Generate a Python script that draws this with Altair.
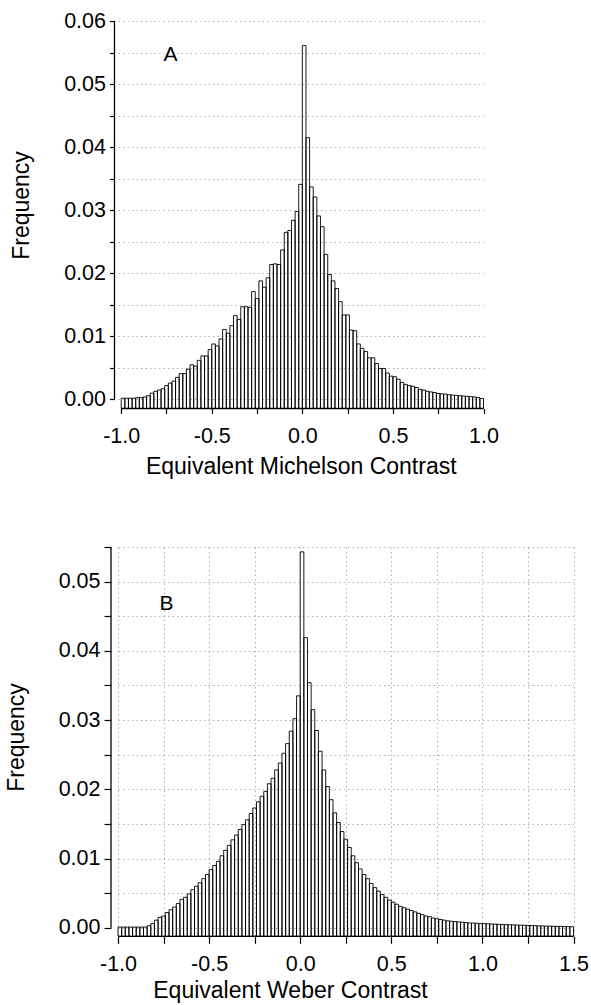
import altair as alt
import pandas as pd

FONT = "Liberation Sans"
BIN_WIDTH = 0.02

# Panel A: Equivalent Michelson contrast, bins of 0.02 from -1.0 to 1.0
michelson_start = -1.0
michelson_freq = [
    0.0002, 0.0002, 0.0002, 0.0002, 0.0003, 0.0003, 0.0004, 0.0006, 0.0010, 0.0013,
    0.0015, 0.0017, 0.0022, 0.0026, 0.0029, 0.0035, 0.0041, 0.0041, 0.0048, 0.0055,
    0.0053, 0.0062, 0.0069, 0.0069, 0.0079, 0.0088, 0.0085, 0.0096, 0.0111, 0.0105,
    0.0117, 0.0133, 0.0127, 0.0147, 0.0147, 0.0146, 0.0171, 0.0160, 0.0188, 0.0178,
    0.0193, 0.0214, 0.0215, 0.0214, 0.0237, 0.0265, 0.0268, 0.0284, 0.0298, 0.0341,
    0.0561, 0.0415, 0.0337, 0.0321, 0.0291, 0.0274, 0.0230, 0.0198, 0.0188, 0.0176,
    0.0155, 0.0134, 0.0134, 0.0110, 0.0109, 0.0088, 0.0081, 0.0076, 0.0066, 0.0066,
    0.0057, 0.0049, 0.0049, 0.0042, 0.0037, 0.0036, 0.0032, 0.0027, 0.0024, 0.0022,
    0.0021, 0.0019, 0.0016, 0.0015, 0.0013, 0.0012, 0.0011, 0.00095, 0.0009, 0.00085,
    0.00075, 0.0007, 0.00065, 0.0006, 0.00055, 0.0005, 0.00045, 0.0004, 0.0003, 0.00015,
]

# Panel B: Equivalent Weber contrast, bins of 0.02 from -1.0 to 1.5
weber_start = -1.0
weber_freq = [
    0.0001, 0.0001, 0.0001, 0.0001, 0.0001, 0.0001, 0.0001, 0.0001, 0.0003, 0.0006,
    0.0011, 0.0015, 0.0017, 0.0022, 0.0026, 0.0030, 0.0035, 0.0041, 0.0044, 0.0049,
    0.0055, 0.0060, 0.0065, 0.0071, 0.0077, 0.0084, 0.0090, 0.0096, 0.0104, 0.0112,
    0.0119, 0.0127, 0.0134, 0.0142, 0.0149, 0.0156, 0.0165, 0.0173, 0.0182, 0.0190,
    0.0197, 0.0208, 0.0216, 0.0228, 0.0238, 0.0252, 0.0266, 0.0284, 0.0302, 0.0335,
    0.0543, 0.0419, 0.0354, 0.0315, 0.0285, 0.0255, 0.0228, 0.0204, 0.0185, 0.0166,
    0.0152, 0.0139, 0.0128, 0.0116, 0.0104, 0.0094, 0.0085, 0.0077, 0.0071, 0.0064,
    0.0058, 0.0053, 0.0048, 0.0044, 0.0040, 0.0037, 0.0034, 0.0031, 0.0029, 0.0027,
    0.0025, 0.0023, 0.0021, 0.0019, 0.0017, 0.0016, 0.0014, 0.0013, 0.0012, 0.0011,
    0.0010, 0.00095, 0.0009, 0.00085, 0.0008, 0.00075, 0.0007, 0.00068, 0.00065, 0.00062,
    0.0006, 0.00058, 0.00055, 0.00052, 0.0005, 0.00048, 0.00046, 0.00044, 0.00042, 0.0004,
    0.00038, 0.00036, 0.00034, 0.00032, 0.0003, 0.00028, 0.00026, 0.00025, 0.00024, 0.00022,
    0.0002, 0.0002, 0.00018, 0.00017, 0.00015,
]

michelson_xticks = [-1.0, -0.75, -0.5, -0.25, 0.0, 0.25, 0.5, 0.75, 1.0]
weber_xticks = [-1.0, -0.75, -0.5, -0.25, 0.0, 0.25, 0.5, 0.75, 1.0, 1.25, 1.5]
michelson_yticks = [round(0.005 * k, 3) for k in range(13)]
weber_yticks = [round(0.005 * k, 3) for k in range(12)]


def make_df(start, freqs):
    n = len(freqs)
    return pd.DataFrame({
        "x0": [round(start + i * BIN_WIDTH, 4) for i in range(n)],
        "x1": [round(start + (i + 1) * BIN_WIDTH, 4) for i in range(n)],
        "freq": freqs,
    })


XLABEL = "round(datum.value*100) % 50 == 0 ? (datum.value < 0 ? '-' : '') + format(abs(datum.value), '.1f') : ''"
YLABEL = "round(datum.value*1000) % 10 == 0 ? format(datum.value, '.2f') : ''"

GRID = dict(gridColor="#666666", gridOpacity=0.5, gridDash=[1.5, 3], gridWidth=1)


def panel(df, xdom, xlo, xhi, ydom, ytop, width, height, xticks, yticks,
          yoffset, ytick, xtick, xlabpad, xtitle, xtitlepad, xtitle_x, ytitle_y,
          letter, letter_x, letter_y, xgrid):
    xscale = alt.Scale(domain=xdom, nice=False, zero=False)
    yscale = alt.Scale(domain=ydom, nice=False, zero=False)
    xaxis_kw = dict(
        values=xticks, labelExpr=XLABEL, title=xtitle, domain=False,
        tickSize=xtick, tickColor="black", tickWidth=1.2,
        labelFont=FONT, labelFontSize=21.5, labelColor="black",
        labelPadding=xlabpad, labelOverlap=False, labelFlush=False,
        titleFont=FONT, titleFontSize=23, titleFontWeight="normal",
        titleColor="black", titlePadding=xtitlepad, grid=xgrid, **GRID,
    )
    if xtitle_x is not None:
        xaxis_kw["titleX"] = xtitle_x
    xaxis = alt.Axis(**xaxis_kw)
    yaxis = alt.Axis(
        values=yticks, labelExpr=YLABEL, title="Frequency", domain=False,
        offset=yoffset, tickSize=ytick, tickColor="black", tickWidth=1.2,
        labelFont=FONT, labelFontSize=21.5, labelColor="black",
        labelPadding=4, labelOverlap=False, labelFlush=False,
        titleFont=FONT, titleFontSize=23, titleFontWeight="normal",
        titleColor="black", titlePadding=30, titleY=ytitle_y, grid=True, **GRID,
    )
    bars = alt.Chart(df).mark_rect(
        filled=False, stroke="black", strokeWidth=0.9
    ).encode(
        x=alt.X("x0:Q", scale=xscale, axis=xaxis),
        x2="x1:Q",
        y=alt.Y("freq:Q", scale=yscale, axis=yaxis),
        y2=alt.datum(ydom[0]),
    )
    one = alt.Data(values=[{}])
    yline = alt.Chart(one).mark_rule(color="black", strokeWidth=1.3).encode(
        x=alt.value(-yoffset),
        y=alt.YDatum(0, scale=yscale, axis=yaxis),
        y2=alt.datum(ytop),
    )
    xline = alt.Chart(one).mark_rule(color="black", strokeWidth=1.3).encode(
        x=alt.XDatum(xlo, scale=xscale, axis=xaxis),
        x2=alt.datum(xhi),
        y=alt.YDatum(ydom[0], scale=yscale, axis=yaxis),
    )
    text = alt.Chart(one).mark_text(
        text=letter, font=FONT, fontSize=21, color="black", align="center", baseline="middle"
    ).encode(
        x=alt.XDatum(letter_x, scale=xscale, axis=xaxis),
        y=alt.YDatum(letter_y, scale=yscale, axis=yaxis),
    )
    return alt.layer(bars, yline, xline, text).properties(width=width, height=height)


top = panel(
    make_df(michelson_start, michelson_freq),
    xdom=[-1.0177, 1.0], xlo=-1.0, xhi=1.0,
    ydom=[-0.00143, 0.06], ytop=0.06, width=365.5, height=387.5,
    xticks=michelson_xticks, yticks=michelson_yticks,
    yoffset=3.5, ytick=5, xtick=5, xlabpad=12,
    xtitle="Equivalent Michelson Contrast", xtitlepad=8, xtitle_x=None, ytitle_y=184,
    letter="A", letter_x=-0.728, letter_y=0.0546, xgrid=False,
)

bottom = panel(
    make_df(weber_start, weber_freq),
    xdom=[-1.0, 1.5], xlo=-1.0, xhi=1.5,
    ydom=[-0.00123, 0.055], ytop=0.055, width=455.5, height=389.3,
    xticks=weber_xticks, yticks=weber_yticks,
    yoffset=7, ytick=7, xtick=7, xlabpad=10,
    xtitle="Equivalent Weber Contrast", xtitlepad=5, xtitle_x=172, ytitle_y=190,
    letter="B", letter_x=-0.734, letter_y=0.0467, xgrid=True,
)

chart = alt.vconcat(top, bottom, spacing=58).properties(
    padding={"left": 5, "top": 10, "right": 0, "bottom": 0}
).configure_view(stroke=None)

chart.save("out.html", embed_options={"renderer": "svg", "actions": False})
